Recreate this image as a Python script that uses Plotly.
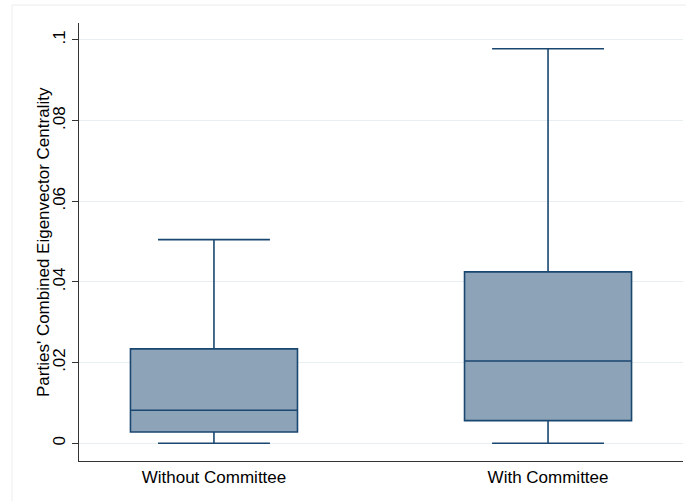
import plotly.graph_objects as go

categories = ["Without Committee", "With Committee"]
q1 = [0.0028, 0.0056]
median = [0.0082, 0.0204]
q3 = [0.0234, 0.0425]
lower_whisker = [0.0, 0.0]
upper_whisker = [0.0505, 0.0978]

y_tickvals = [0, 0.02, 0.04, 0.06, 0.08, 0.1]
y_ticktext = ["0", ".02", ".04", ".06", ".08", ".1"]
y_title = "Parties' Combined Eigenvector Centrality"

fill_color = "rgb(140,163,184)"
line_color = "rgb(26,71,111)"
font = "Liberation Sans, Arial, Helvetica, sans-serif"
fsize = 17

fig = go.Figure()
for i, cat in enumerate(categories):
    fig.add_trace(go.Box(
        x=[cat],
        q1=[q1[i]], median=[median[i]], q3=[q3[i]],
        lowerfence=[lower_whisker[i]], upperfence=[upper_whisker[i]],
        fillcolor=fill_color,
        line=dict(color=line_color, width=1.6),
        width=0.5,
        whiskerwidth=0.67,
        boxpoints=False,
        showlegend=False,
        hoverinfo="skip",
    ))

fig.update_layout(
    width=686, height=501,
    margin=dict(l=79, r=3, t=23, b=40),
    paper_bgcolor="white",
    plot_bgcolor="white",
    boxmode="overlay",
    font=dict(family=font, size=fsize, color="black"),
    shapes=[
        dict(type="line", xref="paper", yref="paper", x0=-0.111, x1=1.2, y0=1.041, y1=1.041,
             line=dict(color="#ececec", width=1), layer="below"),
        dict(type="line", xref="paper", yref="paper", x0=-0.111, x1=-0.111, y0=-0.2, y1=1.041,
             line=dict(color="#ececec", width=1), layer="below"),
    ],
    annotations=[
        dict(text=y_title, xref="paper", yref="paper", x=-0.0596, y=0.5,
             xanchor="center", yanchor="middle", textangle=-90, showarrow=False,
             font=dict(size=fsize, family=font, color="black")),
    ],
)

fig.update_xaxes(
    type="category",
    categoryorder="array", categoryarray=categories,
    range=[-0.404, 1.404],
    showline=True, linecolor="#333333", linewidth=1.2,
    ticks="outside", ticklen=0, tickcolor="#333333",
    showgrid=False, zeroline=False,
    tickfont=dict(size=fsize, family=font, color="black"),
)
fig.update_yaxes(
    range=[-0.0044, 0.1042],
    tickvals=y_tickvals, ticktext=y_ticktext,
    tickangle=-90,
    showline=True, linecolor="#333333", linewidth=1.2,
    ticks="outside", ticklen=6, tickcolor="#333333",
    showgrid=True, gridcolor="#e8eff2", gridwidth=1.2,
    zeroline=False,
    tickfont=dict(size=fsize, family=font, color="black"),
)

fig.write_html("out.html")
